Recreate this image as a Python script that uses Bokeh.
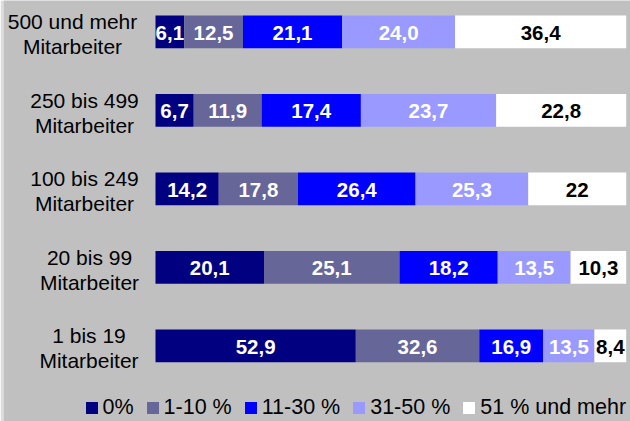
from bokeh.plotting import figure
from bokeh.models import Range1d, ColumnDataSource, Legend, LegendItem
from bokeh.core.properties import value
from bokeh.embed import file_html
from bokeh.resources import INLINE

# ---- data ----
cat_line1 = ["500 und mehr", "250 bis 499", "100 bis 249", "20 bis 99", "1 bis 19"]
cat_line2 = ["Mitarbeiter", "Mitarbeiter", "Mitarbeiter", "Mitarbeiter", "Mitarbeiter"]
series_names = ["0%", "1-10 %", "11-30 %", "31-50 %", "51 % und mehr"]
s_0 = [6.1, 6.7, 14.2, 20.1, 52.9]
s_1_10 = [12.5, 11.9, 17.8, 25.1, 32.6]
s_11_30 = [21.1, 17.4, 26.4, 18.2, 16.9]
s_31_50 = [24.0, 23.7, 25.3, 13.5, 13.5]
s_51 = [36.4, 22.8, 22.0, 10.3, 8.4]
lab_0 = ["6,1", "6,7", "14,2", "20,1", "52,9"]
lab_1_10 = ["12,5", "11,9", "17,8", "25,1", "32,6"]
lab_11_30 = ["21,1", "17,4", "26,4", "18,2", "16,9"]
lab_31_50 = ["24,0", "23,7", "25,3", "13,5", "13,5"]
lab_51 = ["36,4", "22,8", "22", "10,3", "8,4"]

series = [s_0, s_1_10, s_11_30, s_31_50, s_51]
labels = [lab_0, lab_1_10, lab_11_30, lab_31_50, lab_51]

# ---- styles ----
colors = ["#000080", "#666699", "#0000ff", "#9999ff", "#ffffff"]
text_colors = ["#ffffff", "#ffffff", "#ffffff", "#ffffff", "#000000"]
BG = "#c0c0c0"
EDGE = "#dcdcdc"
FONT = "Liberation Sans"
label_center_offsets = [-83, -71, -71, -66, -66.5]  # px left of bar start

rows = list(range(len(cat_line1)))
totals = [sum(s[i] for s in series) for i in rows]

px_per_pct = 4.707
left_border = 3
bar_start_px = 155
W, H = 630, 421
row_px = 78.5
first_center_px = 31.35

p = figure(width=W, height=H,
           x_range=Range1d(-(bar_start_px - left_border) / px_per_pct,
                           (W - bar_start_px) / px_per_pct),
           y_range=Range1d((H - first_center_px) / row_px, -first_center_px / row_px),
           toolbar_location=None, output_backend="svg", min_border=0,
           min_border_left=left_border,
           x_axis_location=None, y_axis_location=None)
p.background_fill_color = BG
p.border_fill_color = EDGE
p.outline_line_color = None
p.grid.visible = False

renderers = []
cum = [0.0] * len(rows)
for j, s in enumerate(series):
    left = [cum[i] / totals[i] * 100 for i in rows]
    right = [(cum[i] + s[i]) / totals[i] * 100 for i in rows]
    mid = [(l + r) / 2 for l, r in zip(left, right)]
    cum = [cum[i] + s[i] for i in rows]
    src = ColumnDataSource(dict(y=rows, left=left, right=right, mid=mid, lab=labels[j]))
    r = p.hbar(y="y", left="left", right="right", height=32.7 / row_px, source=src,
               fill_color=colors[j], line_color=None)
    renderers.append(r)
    p.text(x="mid", y="y", text="lab", source=src, text_align="center",
           text_baseline="middle", text_font=value(FONT), text_font_style="bold",
           text_font_size="20.5px", text_color=text_colors[j], y_offset=1)

csrc = ColumnDataSource(dict(x=[0] * len(rows), y=rows, l1=cat_line1, l2=cat_line2,
                             xo=label_center_offsets))
p.text(x="x", y="y", text="l1", source=csrc, x_offset="xo", y_offset=-10,
       text_align="center", text_baseline="alphabetic", text_font=value(FONT),
       text_font_size="21px", text_color="#000000")
p.text(x="x", y="y", text="l2", source=csrc, x_offset="xo", y_offset=15,
       text_align="center", text_baseline="alphabetic", text_font=value(FONT),
       text_font_size="21px", text_color="#000000")

legend = Legend(items=[LegendItem(label=n, renderers=[r]) for n, r in zip(series_names, renderers)],
                location=(85 - 1.5 - left_border, 1), orientation="horizontal",
                padding=0, margin=0, spacing=11, glyph_width=15, glyph_height=15,
                label_standoff=4, label_height=15, label_text_font=FONT,
                label_text_font_size="21.5px", label_text_color="#000000",
                background_fill_alpha=0, border_line_color=None)
p.add_layout(legend, "center")

open("out.html", "w").write(file_html(p, INLINE))
